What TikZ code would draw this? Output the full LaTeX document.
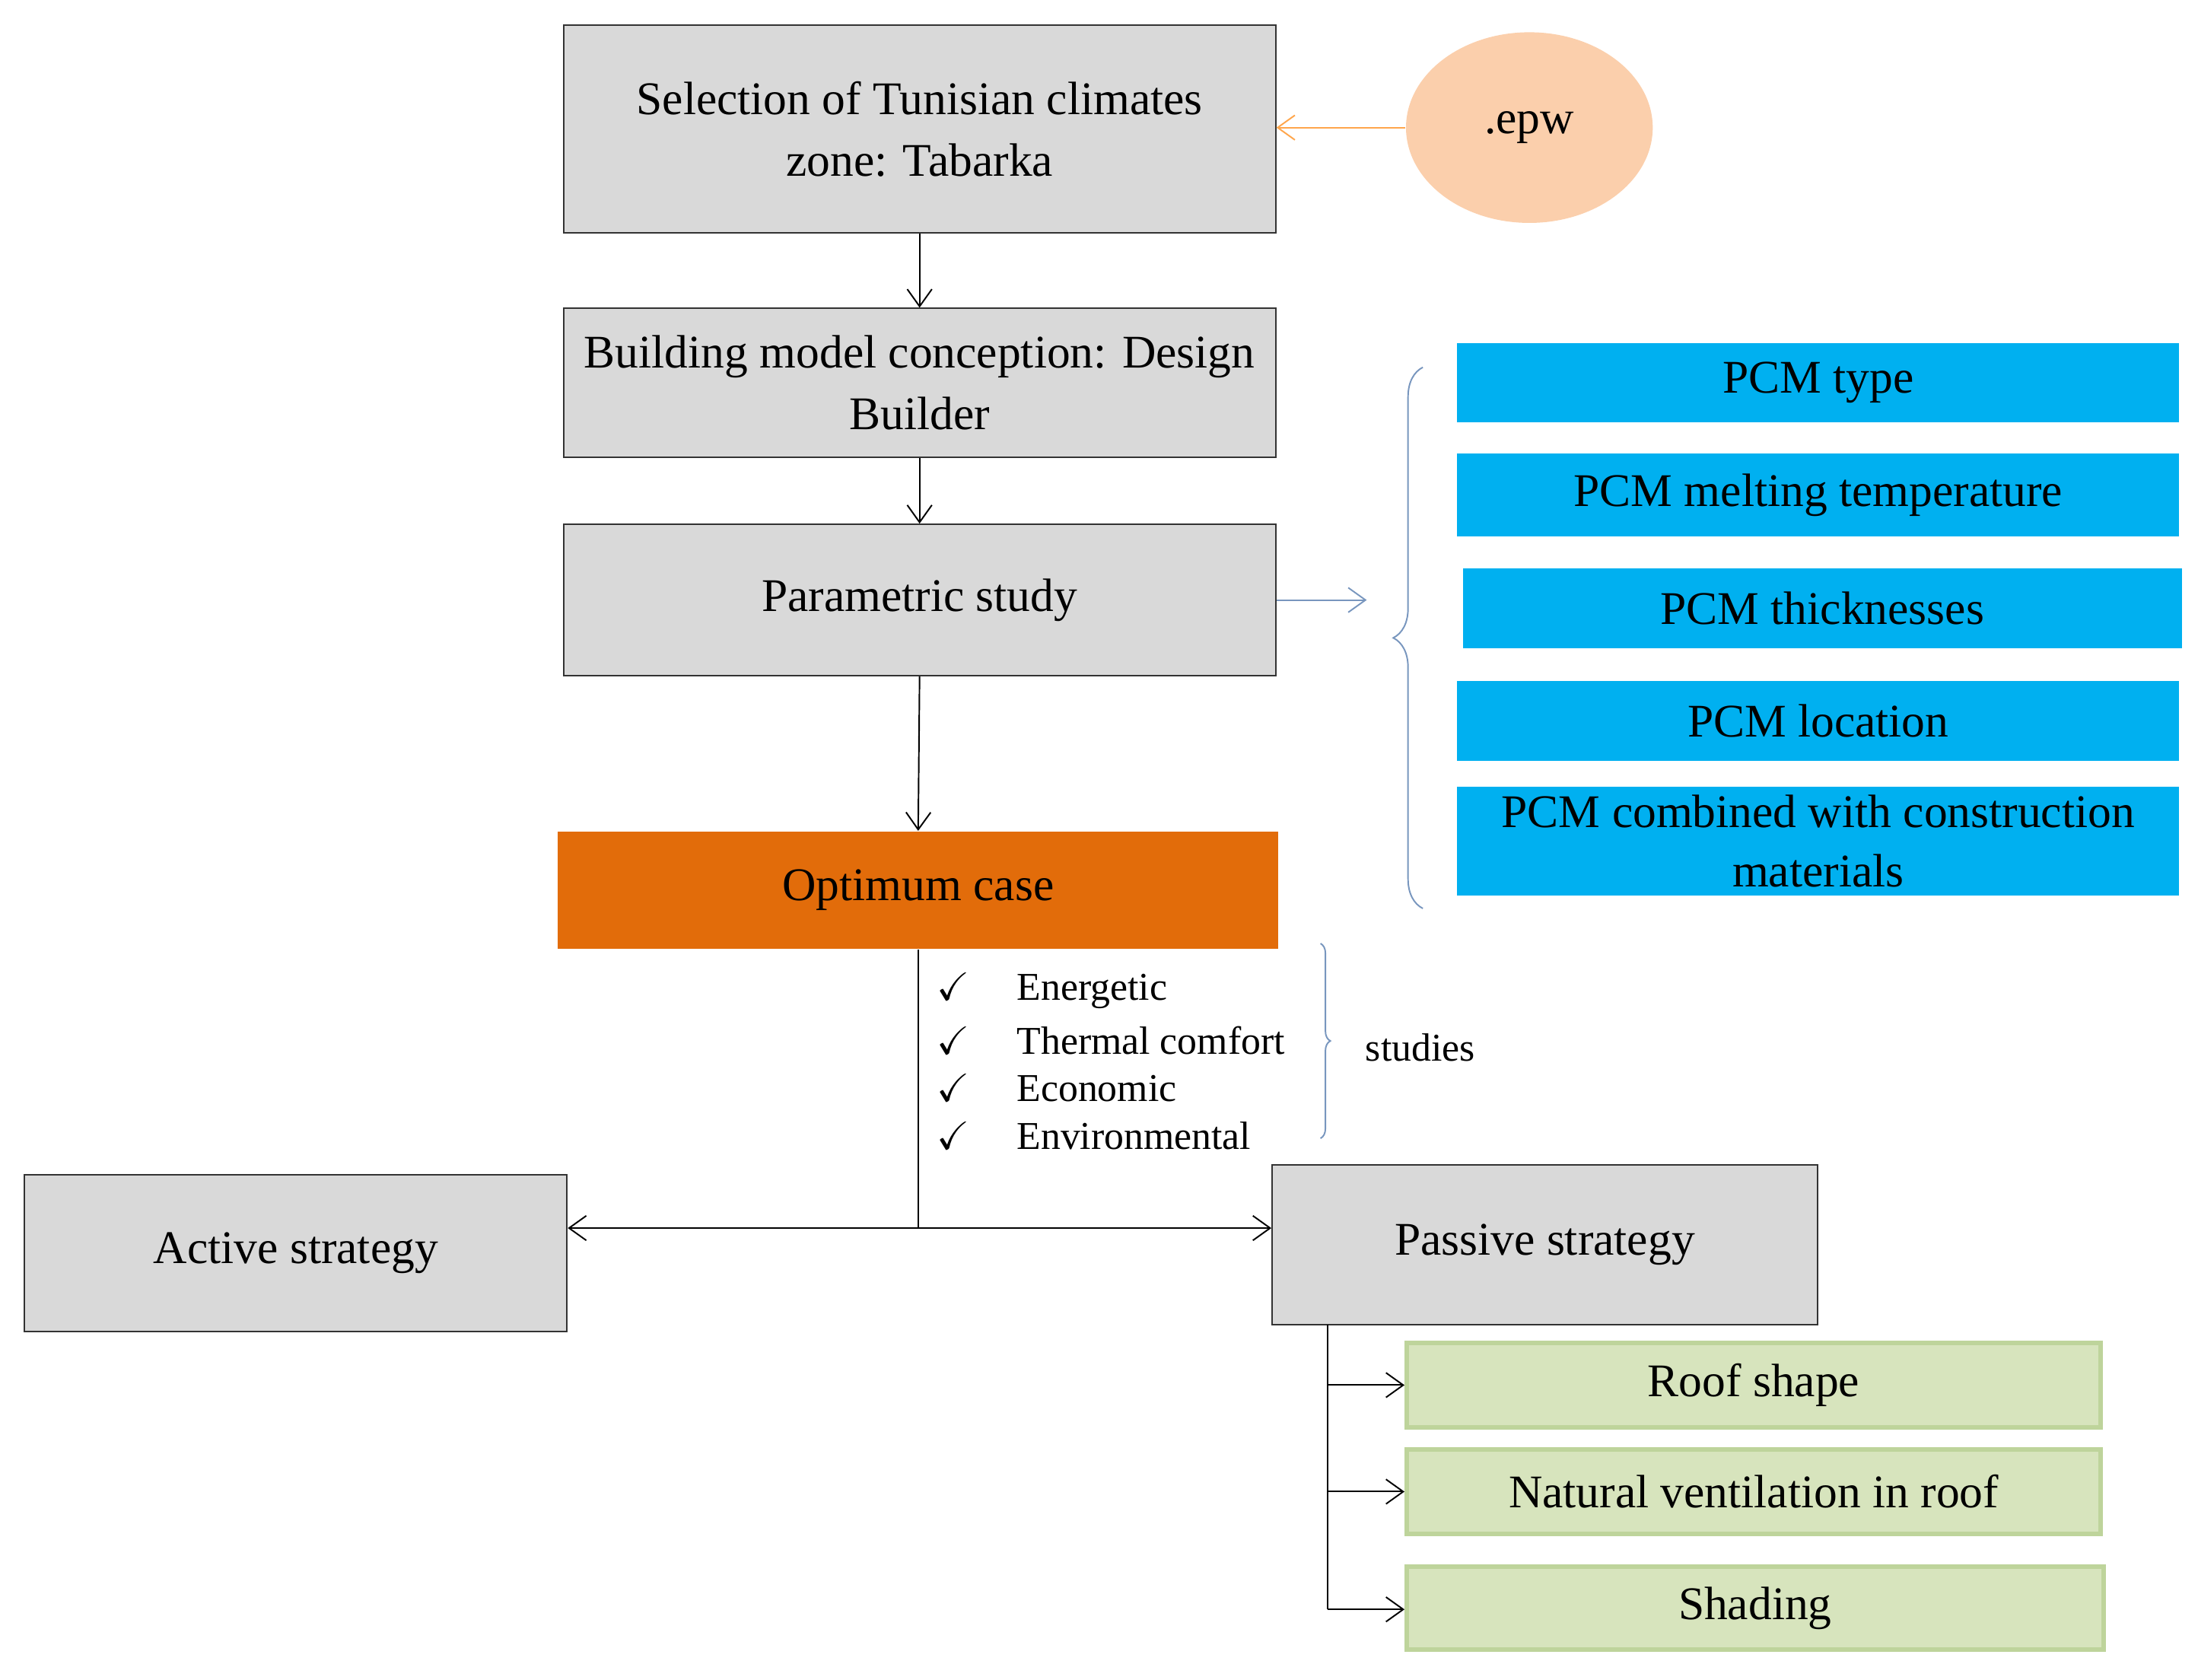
\documentclass[tikz,border=0pt]{standalone}
\usepackage{fontspec}
\usepackage{amssymb}
\setmainfont{Liberation Serif}
\usetikzlibrary{arrows.meta,decorations.pathreplacing,shapes.geometric}
\definecolor{gbox}{RGB}{217,217,217}
\definecolor{pcm}{RGB}{0,176,240}
\definecolor{opt}{RGB}{226,108,10}
\definecolor{peach}{RGB}{251,207,172}
\definecolor{grn}{RGB}{215,228,189}
\definecolor{grnb}{RGB}{190,212,155}
\definecolor{brc}{RGB}{120,150,190}
\begin{document}
\begin{tikzpicture}[x=0.02cm,y=-0.02cm,
  box/.style={draw=black!80,line width=0.6pt,fill=gbox,align=center,font=\fontsize{19}{25}\selectfont},
  pbox/.style={fill=pcm,align=center,font=\fontsize{19}{24}\selectfont},
  gr/.style={fill=grn,draw=grnb,line width=1.8pt,font=\fontsize{19}{24}\selectfont},
  arr/.style={-{Straight Barb[length=7pt,width=10pt]},line width=0.6pt},
  chk/.style={anchor=west,font=\fontsize{16}{20}\selectfont}]
\useasboundingbox (0,0) rectangle (1568,1198);
\node[box,minimum width=508*0.02cm,minimum height=148*0.02cm] (sel) at (656,92) {Selection of Tunisian climates\\zone: Tabarka};
\node[ellipse,fill=peach,minimum width=176*0.02cm,minimum height=136*0.02cm,font=\fontsize{19}{24}\selectfont] (epw) at (1091,91) {.epw};
\node[box,minimum width=508*0.02cm,minimum height=106*0.02cm] (bld) at (656,273) {Building model conception: Design\\Builder};
\node[box,minimum width=508*0.02cm,minimum height=108*0.02cm] (par) at (656,428) {Parametric study};
\node[fill=opt,minimum width=514*0.02cm,minimum height=84*0.02cm,font=\fontsize{19}{24}\selectfont] (opt) at (655,635) {Optimum case};
\node[pbox,minimum width=515*0.02cm,minimum height=56*0.02cm] (p1) at (1297,273) {PCM type};
\node[pbox,minimum width=515*0.02cm,minimum height=59*0.02cm] (p2) at (1297,353) {PCM melting temperature};
\node[pbox,minimum width=513*0.02cm,minimum height=57*0.02cm] (p3) at (1300,434) {PCM thicknesses};
\node[pbox,minimum width=515*0.02cm,minimum height=57*0.02cm] (p4) at (1297,514) {PCM location};
\node[pbox,minimum width=515*0.02cm,minimum height=71*0.02cm] (p5) at (1297,600) {PCM combined with construction\\materials};
\node[box,minimum width=387*0.02cm,minimum height=112*0.02cm] (act) at (211,894) {Active strategy};
\node[box,minimum width=389*0.02cm,minimum height=114*0.02cm] (pas) at (1102,888) {Passive strategy};
\node[gr,minimum width=495*0.02cm,minimum height=60*0.02cm] (g1) at (1251,988) {Roof shape\hspace{3em}};
\node[gr,minimum width=495*0.02cm,minimum height=60*0.02cm] (g2) at (1251,1064) {Natural ventilation in roof};
\node[gr,minimum width=497*0.02cm,minimum height=59*0.02cm] (g3) at (1252,1147) {Shading\hspace{2em}};
% connectors
\draw[arr,draw=orange!70] (epw.west) -- (sel.east|-epw.west);
\draw[arr] (sel.south) -- (bld.north);
\draw[arr] (bld.south) -- (par.north);
\draw[arr] (par.south) -- (opt.north);
\coordinate (bt) at (975,428);
\draw[arr,draw=brc] (par.east|-bt) -- (bt);
\draw[brc,line width=0.6pt,decorate,decoration={brace,amplitude=12pt}] (1015,648) -- (1015,262);
% checklist
\node[chk] (c1) at (662,707) {$\checkmark$\hspace{1.2em}Energetic};
\node[chk] (c2) at (662,742) {$\checkmark$\hspace{1.2em}Thermal comfort};
\node[chk] (c3) at (662,776) {$\checkmark$\hspace{1.2em}Economic};
\node[chk] (c4) at (662,810) {$\checkmark$\hspace{1.2em}Environmental};
\draw[brc,line width=0.6pt,decorate,decoration={brace,amplitude=4pt}] (942,673) -- (942,812);
\node[chk] (st) at (968,747) {studies};
% branches
\coordinate (j) at (655,876);
\draw[line width=0.6pt] (opt.south) -- (j);
\draw[arr] (j) -- (act.east|-j);
\draw[arr] (j) -- (pas.west|-j);
\coordinate (ps) at (947,945);
\coordinate (pe) at (947,1148);
\draw[line width=0.6pt] (ps) -- (pe);
\draw[arr] (947,988) -- (g1.west);
\draw[arr] (947,1064) -- (g2.west);
\draw[arr] (pe) -- (g3.west|-pe);
\end{tikzpicture}
\end{document}
